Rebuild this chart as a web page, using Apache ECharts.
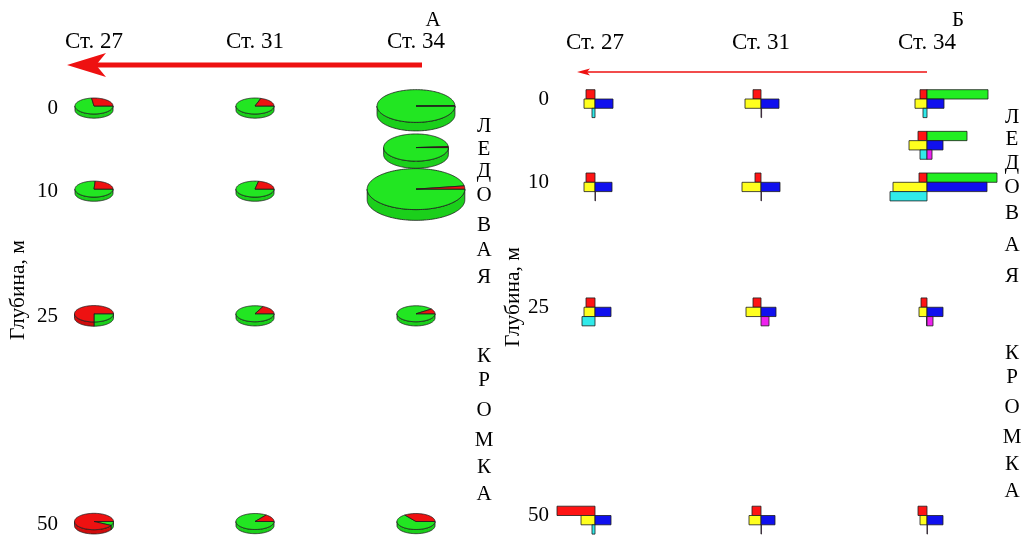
<!DOCTYPE html>
<html>
<head>
<meta charset="utf-8">
<script src="https://cdn.jsdelivr.net/npm/echarts@6/dist/echarts.min.js"></script>
<style>
html, body { margin: 0; padding: 0; background: #fff; }
#chart { width: 1029px; height: 537px; }
</style>
</head>
<body>
<div id="chart"></div>
<script>
// Stations along the section and labelled depths (m)
const stations = ['Ст. 27', 'Ст. 31', 'Ст. 34'];
const depthTicks = [0, 10, 25, 50];

// Panel А: pies (index of station, depth, relative size, share of the red sector)
const pieStation  = [0, 1, 2, 2, 0, 1, 2, 0, 1, 2, 0, 1, 2];
const pieDepth    = [0, 0, 0, 5, 10, 10, 10, 25, 25, 25, 50, 50, 50];
const pieSize     = [1, 1, 4.2, 2.9, 1, 1, 6.6, 1.05, 1, 1, 1.05, 1, 1];
const pieRedShare = [0.27, 0.2, 0.003, 0.012, 0.24, 0.22, 0.025, 0.75, 0.18, 0.1, 0.92, 0.15, 0.35];

// Panel Б: cross glyphs, one value per group
const glyphStation = [0, 1, 2, 2, 0, 1, 2, 0, 1, 2, 0, 1, 2];
const glyphDepth   = [0, 0, 0, 5, 10, 10, 10, 25, 25, 25, 50, 50, 50];
const redVals      = [4.5, 4, 3.5, 4.5, 4.5, 3, 4, 4.5, 4, 3, 19, 4.5, 4.5];
const greenVals    = [0, 0, 30.5, 20, 0, 0, 35, 0, 0, 0, 0, 0, 0];
const yellowVals   = [5.5, 8, 6, 9, 5.5, 9.5, 17, 5.5, 7.5, 4, 7, 6, 3.5];
const blueVals     = [9, 9, 8.5, 8, 8.5, 9.5, 30, 8, 7.5, 8, 8, 7, 8];
const cyanVals     = [1.5, 0, 2, 3.5, 0, 0, 18.5, 6.5, 0, 0.2, 1.5, 0, 0];
const magentaVals  = [0, 0.3, 0, 2.5, 0.2, 0.2, 0, 0, 4, 3, 0, 0.2, 0.2];

const FONT = '"Liberation Serif", "DejaVu Serif", serif';
const PIE_RADIUS = 19;      // horizontal radius of a pie of size 1
const PIE_LIFT = 2.5;       // top face sits slightly above the depth line
const UNIT_PX = 2;          // bar length per unit in the glyphs
const ROW_H = 9.3;          // height of one glyph row
const EDGE = '#1d1d1d';

const PIE_GREEN = '#22e622', PIE_GREEN_SIDE = '#1bcf1b';
const PIE_RED = '#ee1111', PIE_RED_SIDE = '#d00c0c';

function renderPie(params, api) {
  const p = api.coord([api.value(0), api.value(1)]);
  const c = [p[0], p[1] - PIE_LIFT];
  const rx = PIE_RADIUS * Math.sqrt(api.value(2));
  const ry = rx * 0.42, h = rx * 0.22;
  const split = 2 * Math.PI * (1 - api.value(3));
  const slices = [[0, split, PIE_GREEN, PIE_GREEN_SIDE], [split, 2 * Math.PI, PIE_RED, PIE_RED_SIDE]];
  const pt = (t, dy) => [c[0] + rx * Math.cos(t), c[1] + ry * Math.sin(t) + dy];
  const children = [];
  // visible rim (front half)
  slices.forEach(([a, b, , side]) => {
    const a2 = Math.max(a, 0), b2 = Math.min(b, Math.PI);
    if (b2 <= a2) return;
    const n = Math.max(4, Math.ceil((b2 - a2) / 0.04));
    const pts = [];
    for (let i = 0; i <= n; i++) pts.push(pt(a2 + (b2 - a2) * i / n, 0));
    for (let i = n; i >= 0; i--) pts.push(pt(a2 + (b2 - a2) * i / n, h));
    children.push({ type: 'polygon', shape: { points: pts }, style: { fill: side, stroke: EDGE, lineWidth: 0.8 } });
  });
  // top face
  slices.forEach(([a, b, top]) => {
    const n = Math.max(4, Math.ceil((b - a) / 0.04));
    const pts = [c];
    for (let i = 0; i <= n; i++) pts.push(pt(a + (b - a) * i / n, 0));
    children.push({ type: 'polygon', shape: { points: pts }, style: { fill: top, stroke: EDGE, lineWidth: 0.8 } });
  });
  return { type: 'group', children };
}

const GLYPH_COLORS = [['#ff1414', '#22ee22'], ['#ffff1e', '#1010ee'], ['#30eaea', '#ee22ee']];

function renderGlyph(params, api) {
  const c = api.coord([api.value(0), api.value(1)]);
  const children = [];
  for (let k = 0; k < 3; k++) {
    const left = api.value(2 + 2 * k), right = api.value(3 + 2 * k);
    const y = c[1] + (k - 1) * ROW_H;
    if (left > 0) children.push({ type: 'rect', shape: { x: c[0] - left * UNIT_PX, y, width: left * UNIT_PX, height: ROW_H },
      style: { fill: GLYPH_COLORS[k][0], stroke: EDGE, lineWidth: 0.8 } });
    if (right > 0) children.push({ type: 'rect', shape: { x: c[0], y, width: right * UNIT_PX, height: ROW_H },
      style: { fill: GLYPH_COLORS[k][1], stroke: EDGE, lineWidth: 0.8 } });
  }
  return { type: 'group', children };
}

function stationAxis(gridIndex, margin) {
  return {
    gridIndex, type: 'category', data: stations, position: 'top', boundaryGap: true,
    axisLine: { show: false }, axisTick: { show: false }, splitLine: { show: false },
    axisLabel: { interval: 0, margin, fontFamily: FONT, fontSize: 23, color: '#000' }
  };
}
function depthAxis(gridIndex, offset) {
  return {
    gridIndex, type: 'value', inverse: true, min: 0, max: 50, interval: 5, offset,
    axisLine: { show: false }, axisTick: { show: false }, splitLine: { show: false },
    axisLabel: { margin: 2, fontFamily: FONT, fontSize: 21, color: '#000',
      formatter: v => depthTicks.includes(v) ? String(v) : '' }
  };
}

function letter(ch, x, y) {
  return { type: 'text', x, y, silent: true,
    style: { text: ch, font: '21px ' + FONT, fill: '#000', align: 'center', verticalAlign: 'middle' } };
}
const word1 = ['Л', 'Е', 'Д', 'О', 'В', 'А', 'Я'];
const word2 = ['К', 'Р', 'О', 'М', 'К', 'А'];
const leftY1 = [126, 149, 171, 195, 225, 250, 277];
const rightY1 = [117, 139, 163, 187, 213, 245, 276];
const y2 = [356, 380, 410, 440, 467, 494];

const graphics = [];
word1.forEach((ch, i) => { graphics.push(letter(ch, 484, leftY1[i])); graphics.push(letter(ch, 1012, rightY1[i])); });
word2.forEach((ch, i) => { graphics.push(letter(ch, 484, y2[i])); graphics.push(letter(ch, 1012, y2[i] - 3)); });

graphics.push(
  { type: 'text', x: 433, y: 20, style: { text: 'А', font: '21px ' + FONT, fill: '#000', align: 'center', verticalAlign: 'middle' } },
  { type: 'text', x: 958, y: 20, style: { text: 'Б', font: '21px ' + FONT, fill: '#000', align: 'center', verticalAlign: 'middle' } },
  { type: 'text', x: 18, y: 290, rotation: Math.PI / 2, style: { text: 'Глубина, м', font: '21.5px ' + FONT, fill: '#000', align: 'center', verticalAlign: 'middle' } },
  { type: 'text', x: 513, y: 297, rotation: Math.PI / 2, style: { text: 'Глубина, м', font: '21.5px ' + FONT, fill: '#000', align: 'center', verticalAlign: 'middle' } },
  // direction arrow, panel А
  { type: 'line', shape: { x1: 422, y1: 65, x2: 92, y2: 65 }, style: { stroke: '#ee1111', lineWidth: 5 } },
  { type: 'polygon', shape: { points: [[67, 65], [106, 53], [96, 65], [106, 77]] }, style: { fill: '#ee1111' } },
  // direction arrow, panel Б
  { type: 'line', shape: { x1: 927, y1: 72, x2: 584, y2: 72 }, style: { stroke: '#ee1111', lineWidth: 1.5 } },
  { type: 'polygon', shape: { points: [[577, 72], [590, 68.5], [587, 72], [590, 75.5]] }, style: { fill: '#ee1111' } }
);

const chart = echarts.init(document.getElementById('chart'), null, { renderer: 'canvas' });
chart.setOption({
  animation: false,
  backgroundColor: '#fff',
  grid: [
    { left: 13.5, top: 108.5, width: 483, height: 415.5 },
    { left: 512, top: 99, width: 498, height: 416.5 }
  ],
  xAxis: [stationAxis(0, 55.5), stationAxis(1, 44.5)],
  yAxis: [depthAxis(0, -46.5), depthAxis(1, -39)],
  series: [
    { type: 'custom', xAxisIndex: 0, yAxisIndex: 0, clip: false, silent: true, renderItem: renderPie,
      data: pieStation.map((s, i) => [s, pieDepth[i], pieSize[i], pieRedShare[i]]) },
    { type: 'custom', xAxisIndex: 1, yAxisIndex: 1, clip: false, silent: true, renderItem: renderGlyph,
      data: glyphStation.map((s, i) => [s, glyphDepth[i], redVals[i], greenVals[i], yellowVals[i], blueVals[i], cyanVals[i], magentaVals[i]]) }
  ],
  graphic: graphics
});
</script>
</body>
</html>
